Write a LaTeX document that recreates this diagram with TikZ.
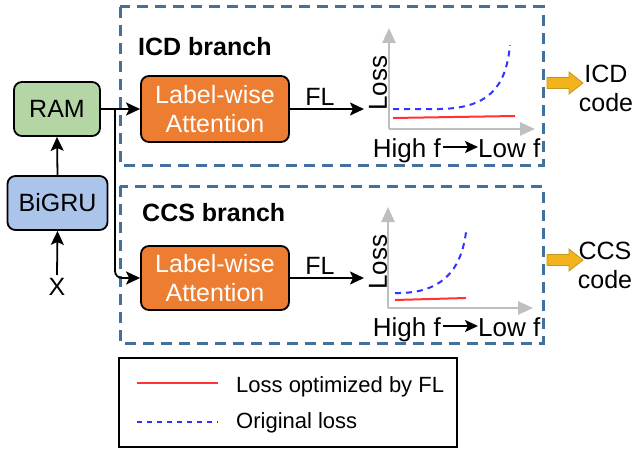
\documentclass[tikz,border=0pt]{standalone}
\usepackage{fontspec}
\setmainfont{Liberation Sans}
\usetikzlibrary{arrows.meta,calc}
\definecolor{dashblue}{HTML}{41719C}
\definecolor{ramgreen}{HTML}{B4D6A4}
\definecolor{grublue}{HTML}{ABC5EA}
\definecolor{attorange}{HTML}{ED7D31}
\definecolor{axgray}{HTML}{BFBFBF}
\definecolor{origblue}{HTML}{3333FF}
\definecolor{flred}{HTML}{FF3333}
\definecolor{outgold}{HTML}{F2B41A}
\definecolor{outgoldd}{HTML}{C8961E}
\newcommand\myfs{\fontsize{25}{29}\selectfont}
\newcommand\mychfs{\fontsize{26}{29}\selectfont}
\newcommand\mylegfs{\fontsize{22}{26}\selectfont}
\begin{document}
\begin{tikzpicture}[x=1pt,y=-1pt,
  branchbox/.style={draw=dashblue,line width=3pt,dash pattern=on 11pt off 7pt},
  blockbox/.style={draw=black,line width=1.8pt,rounded corners=8pt,font=\myfs,inner sep=0pt,align=center},
  conn/.style={line width=1.8pt,-{Stealth[length=14pt,width=13pt,inset=3pt]}},
  axisln/.style={draw=axgray,line width=2.5pt,-{Triangle[length=15pt,width=13pt]}},
  origloss/.style={draw=origblue,line width=2pt,dash pattern=on 6pt off 5pt},
  flloss/.style={draw=flred,line width=2pt},
  outarrow/.style={fill=outgold,draw=outgoldd,line width=0.8pt,line join=miter},
  txt/.style={font=\myfs,inner sep=0pt},
  chtxt/.style={font=\mychfs,inner sep=0pt},
  legtxt/.style={font=\mylegfs,inner sep=0pt}]
\useasboundingbox (0,0) rectangle (632,452);

% branch boxes
\draw[branchbox] (120,7) rectangle (543,165);
\draw[branchbox] (120,186) rectangle (543,343);

\node[txt,font=\fontsize{25}{29}\selectfont\bfseries,anchor=west] (icdlab) at (138,47) {ICD branch};
\node[txt,font=\fontsize{25}{29}\selectfont\bfseries,anchor=west] (ccslab) at (142,213) {CCS branch};

% left blocks
\node[blockbox,fill=ramgreen,minimum width=86pt,minimum height=54pt] (ram) at (57,109) {RAM};
\node[blockbox,fill=grublue,minimum width=100pt,minimum height=54pt] (bigru) at (57.5,203) {BiGRU};
\node[txt] (x) at (57,287) {X};
\coordinate (xtop) at (57,275);

\draw[conn] (xtop) -- (bigru.south);
\draw[conn] (bigru.north) -- (ram.south);

% attention blocks
\node[blockbox,fill=attorange,text=white,minimum width=148pt,minimum height=66pt] (att1) at (215,109) {Label-wise\\Attention};
\node[blockbox,fill=attorange,text=white,minimum width=148pt,minimum height=64pt] (att2) at (215,278) {Label-wise\\Attention};

\coordinate (split) at (115,109);
\draw[conn] (ram.east) -- (att1.west);
\draw[line width=1.8pt,rounded corners=7pt,-{Stealth[length=14pt,width=13pt,inset=3pt]}] (split) |- (att2.west);

% FL arrows
\coordinate (fl1end) at (364,109);
\coordinate (fl2end) at (364,278);
\draw[conn] (att1.east) -- (fl1end);
\draw[conn] (att2.east) -- (fl2end);
\node[txt] (fl1) at (320,97) {FL};
\node[txt] (fl2) at (320,266) {FL};

% ICD chart
\coordinate (o1) at (389,129);
\coordinate (y1) at (389,28);
\coordinate (x1) at (535,129);
\draw[axisln] (o1) -- (y1);
\draw[axisln] (o1) -- (x1);
\node[chtxt,rotate=90] (loss1) at (378,83) {Loss};
\draw[origloss] (393,109) -- (440,109) .. controls (488,108) and (506,88) .. (510,45);
\draw[flloss] (393,118) -- (515,116);
\node[chtxt,anchor=base east] (hf1) at (441,157) {High f};
\node[chtxt,anchor=base west] (lf1) at (478,157) {Low f};
\draw[line width=1.8pt,-{Stealth[length=13pt,width=12pt,inset=3pt]}] ($(hf1.base east)+(2,-10)$) -- ($(lf1.base west)+(0,-10)$);

% CCS chart
\coordinate (o2) at (388,308);
\coordinate (y2) at (388,207);
\coordinate (x2) at (533,308);
\draw[axisln] (o2) -- (y2);
\draw[axisln] (o2) -- (x2);
\node[chtxt,rotate=90] (loss2) at (378,262) {Loss};
\draw[origloss] (395,293) .. controls (440,294) and (461,272) .. (466,232);
\draw[flloss] (395,300) -- (466,298);
\node[chtxt,anchor=base east] (hf2) at (441,336) {High f};
\node[chtxt,anchor=base west] (lf2) at (478,336) {Low f};
\draw[line width=1.8pt,-{Stealth[length=13pt,width=12pt,inset=3pt]}] ($(hf2.base east)+(2,-10)$) -- ($(lf2.base west)+(0,-10)$);

% output arrows
\draw[outarrow] (547,77.5) -- (569,77.5) -- (569,72) -- (583,83) -- (569,94) -- (569,88.5) -- (547,88.5) -- cycle;
\draw[outarrow] (547,254.5) -- (569,254.5) -- (569,249) -- (583,260) -- (569,271) -- (569,265.5) -- (547,265.5) -- cycle;
\node[txt,align=center] (icdout) at (606,88) {ICD\\code};
\node[txt,align=center] (ccsout) at (605,265) {CCS\\code};

% legend
\draw[line width=1.5pt] (119,358) rectangle (457,447);
\draw[flloss] (137,383) -- (218,383);
\draw[draw=origblue,line width=1.5pt,dash pattern=on 5pt off 5pt] (137,422) -- (218,422);
\node[legtxt,anchor=base west] (leg1) at (236,392) {Loss optimized by FL};
\node[legtxt,anchor=base west] (leg2) at (236,428) {Original loss};
\end{tikzpicture}
\end{document}
